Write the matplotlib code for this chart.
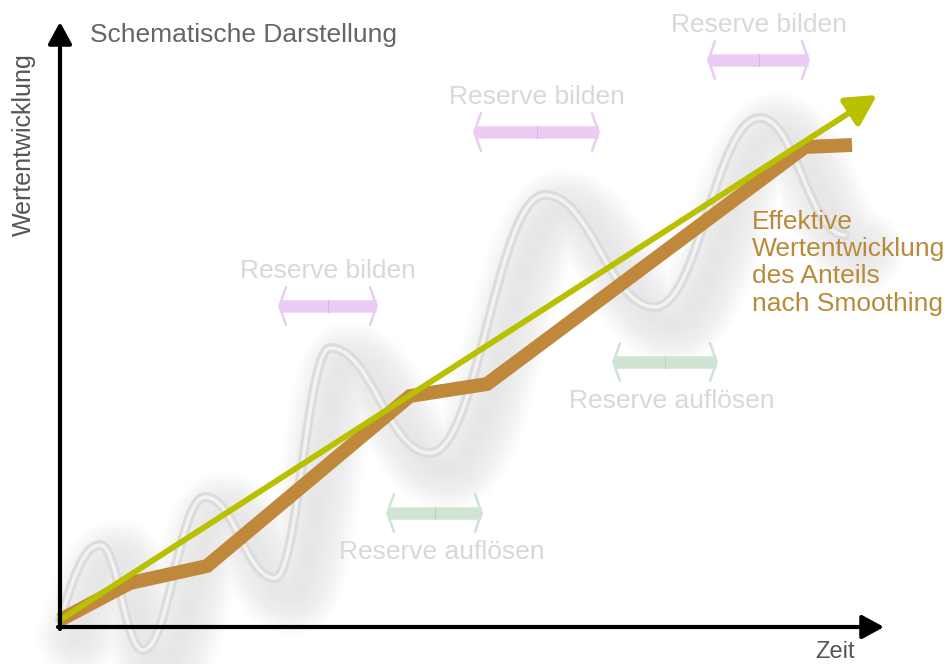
import numpy as np
import matplotlib.pyplot as plt
from matplotlib.path import Path
from matplotlib.patches import PathPatch
import matplotlib.transforms as mtransforms

plt.rcParams['font.family'] = ['Liberation Sans', 'DejaVu Sans']

# schematic values (time, value), origin at the axes crossing
wave_t = [0, 40, 83, 145, 215, 270, 370, 485, 595, 700, 785]
wave_v = [7, 82, -23, 130, 49, 279, 174, 432, 320, 509, 392]

trend_t = [0, 817]
trend_v = [7, 532]

smooth_t = [0, 70, 147, 350, 427, 745, 792]
smooth_v = [7, 44, 61, 231, 243, 480, 482]

# reserve periods
build_start = [218, 413, 647]
build_end = [318, 540, 750]
build_level = [321, 495, 567]
release_start = [326, 552]
release_end = [423, 658]
release_level = [114, 265]

fig = plt.figure(figsize=(9.51, 6.64), dpi=100)
ax = fig.add_axes([0, 0, 1, 1])
ax.set_xlim(-60, 891)
ax.set_ylim(-37, 627)
ax.axis('off')


def wave_path(t, v, k=0.42):
	verts = [(t[0], v[0])]
	codes = [Path.MOVETO]
	for i in range(len(t) - 1):
		dt = t[i + 1] - t[i]
		if i == 0:
			c1 = (t[i] + dt * 0.3, v[i] + (v[i + 1] - v[i]) * 0.5)
		else:
			c1 = (t[i] + dt * k, v[i])
		c2 = (t[i + 1] - dt * k, v[i + 1])
		verts += [c1, c2, (t[i + 1], v[i + 1])]
		codes += [Path.CURVE4] * 3
	return Path(verts, codes)


path = wave_path(wave_t, wave_v)

# soft shadow of the wave
shadow_tr = mtransforms.offset_copy(ax.transData, fig=fig, x=18, y=-16, units='dots')
for lw in np.linspace(60, 8, 16):
	ax.add_patch(PathPatch(path, fill=False, lw=lw, color='#707070', alpha=0.007,
		transform=shadow_tr, capstyle='round', joinstyle='round'))

ax.add_patch(PathPatch(path, fill=False, lw=7, color='#dcdcdc', capstyle='round'))
ax.add_patch(PathPatch(path, fill=False, lw=2.5, color='#f2f2f2', capstyle='round'))


def double_arrow(x0, x1, y, bar, edge):
	ax.plot([x0 + 2, x1 - 2], [y, y], color=bar, lw=9, solid_capstyle='butt', zorder=2)
	ax.annotate('', xy=(x1, y), xytext=(x0, y), zorder=2,
		arrowprops=dict(arrowstyle='<->,head_length=0.3,head_width=0.85', color=bar,
			lw=1.8, mutation_scale=16, shrinkA=0, shrinkB=0))
	xm = (x0 + x1) / 2
	ax.plot([xm, xm], [y - 6, y + 6], color=edge, lw=0.8, zorder=3)


for x0, x1, y in zip(build_start, build_end, build_level):
	double_arrow(x0, x1, y, '#ecccf4', '#dcb4e6')
	ax.annotate('Reserve bilden', xy=((x0 + x1) / 2, y), xytext=(0, 25), textcoords='offset points',
		ha='center', va='center', fontsize=19, color='#d8d8d8')

for x0, x1, y in zip(release_start, release_end, release_level):
	double_arrow(x0, x1, y, '#d0e4d4', '#b8d2be')
	ax.annotate('Reserve auflösen', xy=((x0 + x1) / 2, y), xytext=(5, -28), textcoords='offset points',
		ha='center', va='center', fontsize=19, color='#d8d8d8')

# smoothed value development
ax.plot(smooth_t, smooth_v, color='#c0883a', lw=10, solid_joinstyle='miter',
	solid_capstyle='butt', zorder=4)

# linear trend
ax.annotate('', xy=(trend_t[1], trend_v[1]), xytext=(trend_t[0], trend_v[0]), zorder=5,
	arrowprops=dict(arrowstyle='-|>,head_length=1.3,head_width=0.7', color='#b8c000',
		lw=4.2, mutation_scale=14, shrinkA=0, shrinkB=0))

# axes
ax.annotate('', xy=(824, 0), xytext=(-2, 0), zorder=6,
	arrowprops=dict(arrowstyle='-|>,head_length=1.1,head_width=0.6', color='black',
		lw=3, mutation_scale=12, shrinkA=0, shrinkB=0))
ax.annotate('', xy=(0, 605), xytext=(0, -2), zorder=6,
	arrowprops=dict(arrowstyle='-|>,head_length=1.1,head_width=0.6', color='black',
		lw=3, mutation_scale=12, shrinkA=0, shrinkB=0))

ax.text(30, 592, 'Schematische Darstellung', ha='left', va='center', fontsize=19, color='#666666')
ax.text(-36, 482, 'Wertentwicklung', rotation=90, ha='center', va='center', fontsize=18, color='#555555')
ax.text(775, -25, 'Zeit', ha='center', va='center', fontsize=17, color='#555555')
ax.text(692, 417, 'Effektive\nWertentwicklung\ndes Anteils\nnach Smoothing', ha='left', va='top',
	fontsize=19, color='#b98a3a', linespacing=1.17)

plt.savefig('out.png', dpi=100)
